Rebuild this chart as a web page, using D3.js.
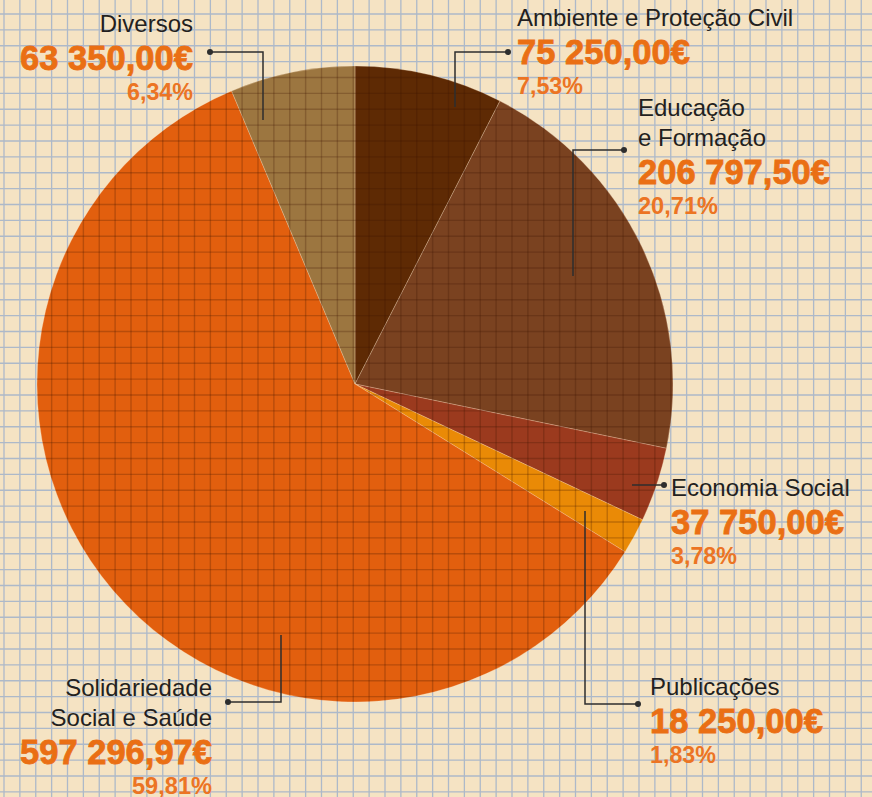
<!DOCTYPE html>
<html><head><meta charset="utf-8">
<script src="https://cdn.jsdelivr.net/npm/d3@7"></script>
<style>
html,body{margin:0;padding:0;background:#f5e3c3;}
svg{display:block;}
</style></head>
<body>
<script>
// ---- data ----
const categories = ["Ambiente e Proteção Civil","Educação e Formação","Economia Social","Publicações","Solidariedade Social e Saúde","Diversos"];
const labelLines = [["Ambiente e Proteção Civil"],["Educação","e Formação"],["Economia Social"],["Publicações"],["Solidariedade","Social e Saúde"],["Diversos"]];
const values = [75250.00, 206797.50, 37750.00, 18250.00, 597296.97, 63350.00];
const valueLabels = ["75 250,00€","206 797,50€","37 750,00€","18 250,00€","597 296,97€","63 350,00€"];
const percentLabels = ["7,53%","20,71%","3,78%","1,83%","59,81%","6,34%"];
const colors = ["#5e2a04","#7a4220","#9b3a1e","#ea8a06","#e25f0e","#9c7640"];

// ---- layout ----
const W = 872, H = 797;
const cx = 355, cy = 384, R = 318;
const labelLayout = [
  {x:517, y:26, anchor:"start", pts:[[508,52],[455,52],[455,107]]},
  {x:638, y:116, anchor:"start", pts:[[624,150],[573,150],[573,276]]},
  {x:671, y:496, anchor:"start", pts:[[664,485],[632,485]]},
  {x:650, y:695, anchor:"start", pts:[[638,704],[585,704],[585,511]]},
  {x:212, y:696, anchor:"end", pts:[[228,702],[281,702],[281,635]]},
  {x:193, y:32, anchor:"end", pts:[[210,52],[263,52],[263,120]]}
];

const svg = d3.select("body").append("svg").attr("width",W).attr("height",H);

// background grid
const gridStep = 15.875, gx0 = 4, gy0 = 14;
const xs = d3.range(gx0, W, gridStep), ys = d3.range(gy0, H, gridStep);
const bgGrid = svg.append("g").attr("stroke","#adb9c9").attr("stroke-width",1.3);
bgGrid.selectAll("line.v").data(xs).join("line").attr("x1",d=>d).attr("x2",d=>d).attr("y1",0).attr("y2",H);
bgGrid.selectAll("line.h").data(ys).join("line").attr("y1",d=>d).attr("y2",d=>d).attr("x1",0).attr("x2",W);

// pie
const pie = d3.pie().sort(null).value(d=>d).startAngle(0).endAngle(2*Math.PI);
const arc = d3.arc().innerRadius(0).outerRadius(R);
const arcs = pie(values);
const g = svg.append("g").attr("transform",`translate(${cx},${cy})`);
g.selectAll("path").data(arcs).join("path")
  .attr("d",arc).attr("fill",(d,i)=>colors[i])
  .attr("stroke","rgba(255,230,200,0.35)").attr("stroke-width",0.8);

// grid on top of pie (darker)
svg.append("clipPath").attr("id","pc").append("circle").attr("cx",cx).attr("cy",cy).attr("r",R);
const fgGrid = svg.append("g").attr("clip-path","url(#pc)").attr("stroke","rgba(60,20,0,0.25)").attr("stroke-width",1.4);
fgGrid.selectAll("line.v").data(xs).join("line").attr("x1",d=>d).attr("x2",d=>d).attr("y1",0).attr("y2",H);
fgGrid.selectAll("line.h").data(ys).join("line").attr("y1",d=>d).attr("y2",d=>d).attr("x1",0).attr("x2",W);

// leaders
const lg = svg.append("g");
labelLayout.forEach(L=>{
  lg.append("path").attr("d",d3.line()(L.pts)).attr("fill","none").attr("stroke","#2e2e2e").attr("stroke-width",1.5);
  lg.append("circle").attr("cx",L.pts[0][0]).attr("cy",L.pts[0][1]).attr("r",3).attr("fill","#2e2e2e");
});

// labels
const tg = svg.append("g");
categories.forEach((c,i)=>{
  const L = labelLayout[i];
  const lines = labelLines[i];
  let y = L.y;
  lines.forEach((ln,j)=>{
    tg.append("text").attr("x",L.x).attr("y",y + j*30).attr("text-anchor",L.anchor)
      .attr("font-family","'Liberation Sans', Arial, sans-serif").attr("font-size",24)
      .attr("fill","#231f20").text(ln);
  });
  y += (lines.length-1)*30;
  const vt = valueLabels[i];
  const vw = vt.length > 10 ? 192 : 173;
  tg.append("text").attr("x",L.x).attr("y",y+38).attr("text-anchor",L.anchor)
    .attr("font-family","'Liberation Sans', Arial, sans-serif")
    .attr("font-weight","bold").attr("font-size",35).attr("fill","#ea6f14")
    .attr("stroke","#ea6f14").attr("stroke-width",0.8)
    .attr("textLength",vw).attr("lengthAdjust","spacingAndGlyphs").text(vt);
  const pt = percentLabels[i];
  tg.append("text").attr("x",L.x).attr("y",y+68).attr("text-anchor",L.anchor)
    .attr("font-family","'Liberation Sans', Arial, sans-serif")
    .attr("font-weight","bold").attr("font-size",24).attr("fill","#ec7423")
    .attr("textLength",pt.length>5?80:66).attr("lengthAdjust","spacingAndGlyphs").text(pt);
});
</script>
</body></html>
